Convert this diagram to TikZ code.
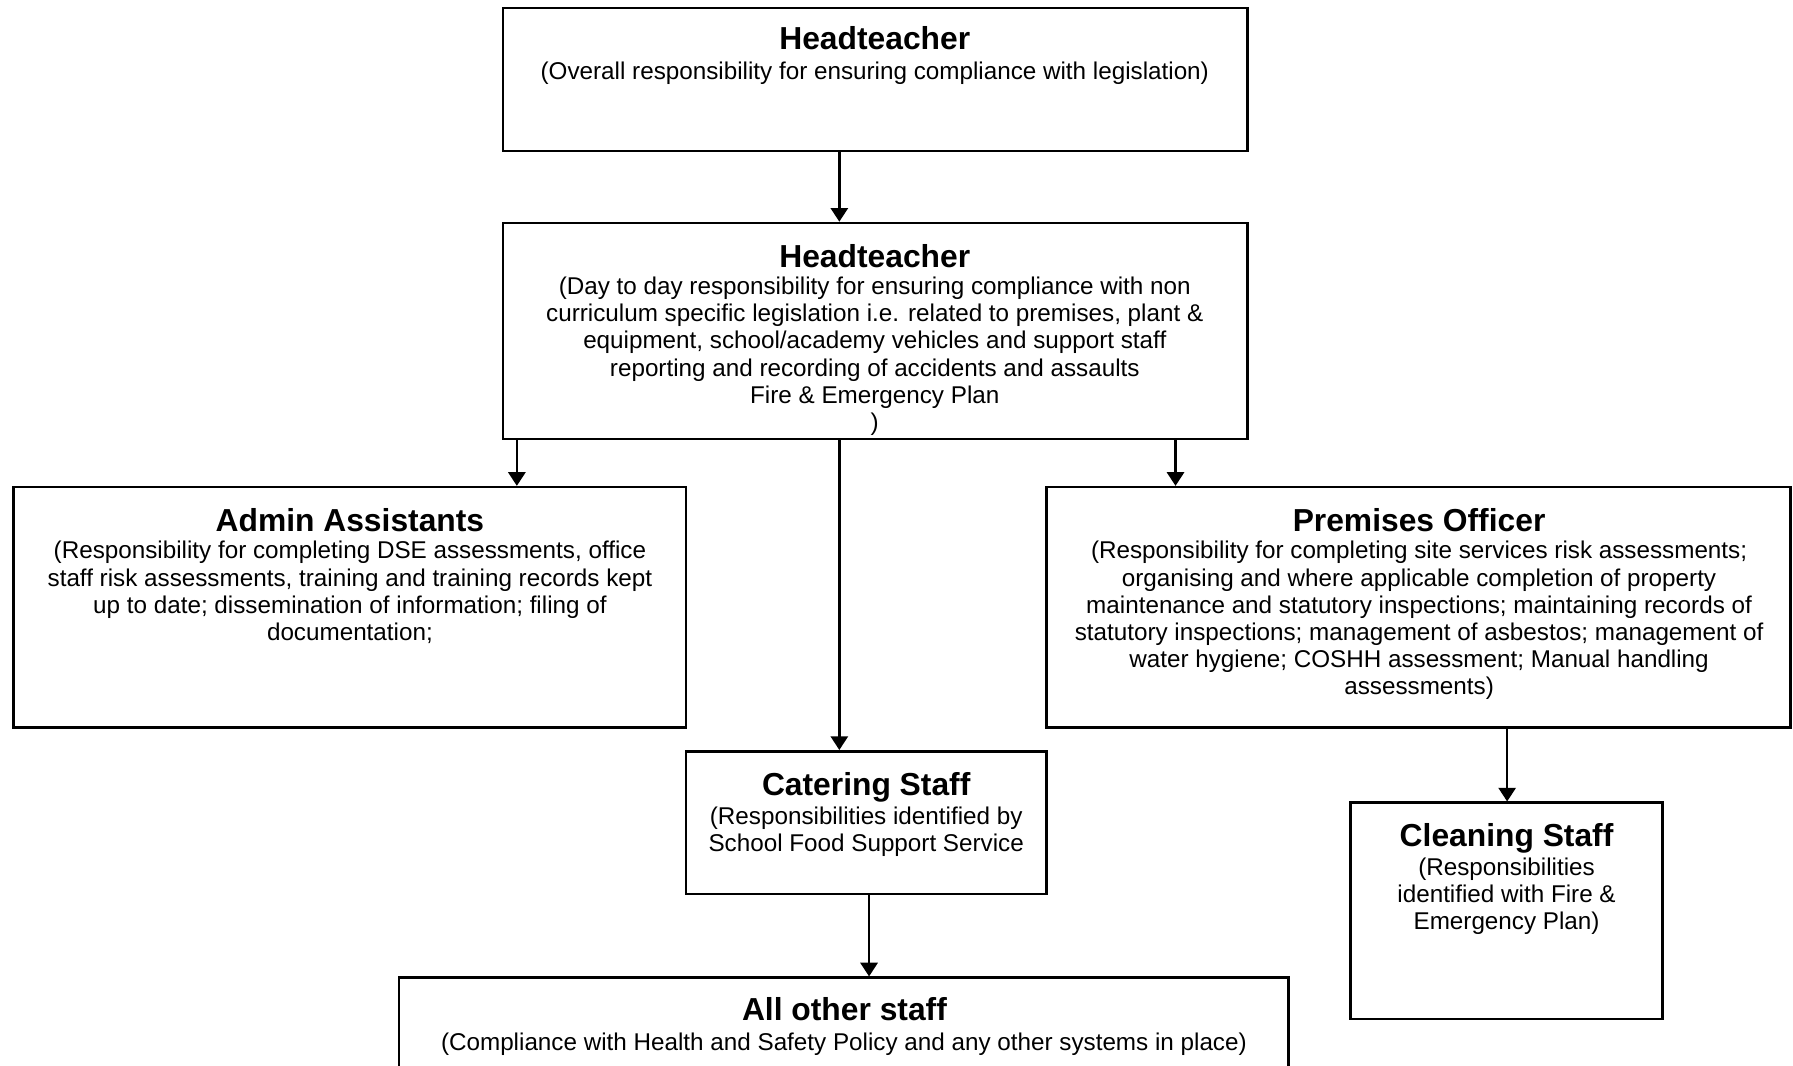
\documentclass[tikz,border=0pt]{standalone}
\usepackage{fontspec}
\setmainfont{Liberation Sans}
\usetikzlibrary{arrows.meta}
\begin{document}
\begin{tikzpicture}[x=0.5pt,y=-0.5pt,
  box/.style={draw=black, line width=1.1pt, inner sep=0pt},
  ttl/.style={anchor=north, inner sep=0pt, font=\fontsize{13.9}{16}\selectfont\bfseries},
  bdy/.style={anchor=north, inner sep=0pt, align=center, font=\fontsize{10.6}{11.85}\selectfont},
  arr/.style={line width=1.1pt, -{Triangle[length=6pt,width=7.5pt]}}]
\useasboundingbox (0,0) rectangle (1568,932);
\clip (0,0) rectangle (1568,932);
\fill[white] (0,0) rectangle (1568,932);

% boxes
\node[box, minimum width=325.5pt, minimum height=62.5pt] (ht1) at (765.5,69.5) {};
\node[box, minimum width=325.5pt, minimum height=94.5pt] (ht2) at (765.5,289.5) {};
\node[box, minimum width=294pt, minimum height=105pt] (adm) at (306,531) {};
\node[box, minimum width=325.5pt, minimum height=105pt] (pre) at (1240.5,531) {};
\node[box, minimum width=157.5pt, minimum height=62.5pt] (cat) at (757.5,719.5) {};
\node[box, minimum width=136.5pt, minimum height=94.5pt] (cle) at (1317.5,796.5) {};
\node[box, minimum width=389pt, minimum height=72.5pt] (oth) at (738,927.5) {};

% texts
\node[ttl] (ht1t) at (765,23) {Headteacher};
\node[bdy] (ht1b) at (765,54) {(Overall responsibility for ensuring compliance with legislation)};

\node[ttl] (ht2t) at (765,213) {Headteacher};
\node[bdy] (ht2b) at (765,242) {(Day to day responsibility for ensuring compliance with non\\
curriculum specific legislation i.e. related to premises, plant \&\\
equipment, school/academy vehicles and support staff\\
reporting and recording of accidents and assaults\\
Fire \& Emergency Plan\\
)};

\node[ttl] (admt) at (306,444) {Admin Assistants};
\node[bdy] (admb) at (306,473) {(Responsibility for completing DSE assessments, office\\
staff risk assessments, training and training records kept\\
up to date; dissemination of information; filing of\\
documentation;};

\node[ttl] (pret) at (1241,444) {Premises Officer};
\node[bdy] (preb) at (1241,473) {(Responsibility for completing site services risk assessments;\\
organising and where applicable completion of property\\
maintenance and statutory inspections; maintaining records of\\
statutory inspections; management of asbestos; management of\\
water hygiene; COSHH assessment; Manual handling\\
assessments)};

\node[ttl] (catt) at (757.5,675) {Catering Staff};
\node[bdy] (catb) at (757.5,705) {(Responsibilities identified by\\
School Food Support Service};

\node[ttl] (clet) at (1317.5,720) {Cleaning Staff};
\node[bdy] (cleb) at (1317.5,750) {(Responsibilities\\
identified with Fire \&\\
Emergency Plan)};

\node[ttl] (otht) at (738.5,872) {All other staff};
\node[bdy] (othb) at (738,903) {(Compliance with Health and Safety Policy and any other systems in place)};

% connector x positions
\coordinate (xa) at (734,0);
\coordinate (xb) at (452,0);
\coordinate (xc) at (1028,0);
\coordinate (xd) at (1318,0);
\coordinate (xe) at (760,0);

\draw[arr] (ht1.south -| xa) -- (ht2.north -| xa);
\draw[arr] (ht2.south -| xb) -- (adm.north -| xb);
\draw[arr] (ht2.south -| xa) -- (cat.north -| xa);
\draw[arr] (ht2.south -| xc) -- (pre.north -| xc);
\draw[arr] (pre.south -| xd) -- (cle.north -| xd);
\draw[arr] (cat.south -| xe) -- (oth.north -| xe);
\end{tikzpicture}
\end{document}
